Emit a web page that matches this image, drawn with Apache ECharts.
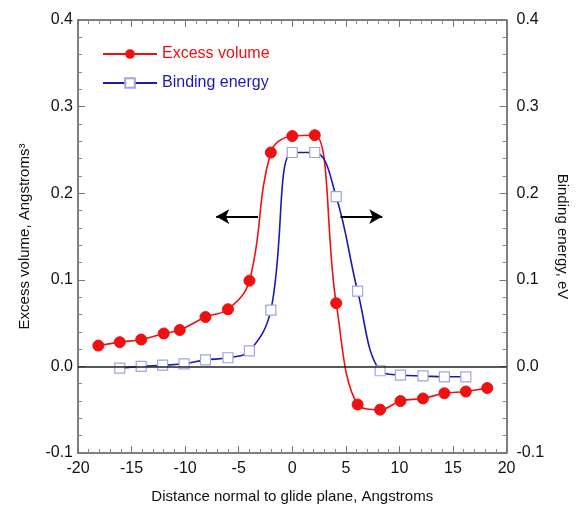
<!DOCTYPE html>
<html>
<head>
<meta charset="utf-8">
<script src="https://cdn.jsdelivr.net/npm/echarts@6/dist/echarts.min.js"></script>
<style>
html,body{margin:0;padding:0;background:#fff;}
#c{width:578px;height:509px;}
</style>
</head>
<body>
<div id="c"></div>
<script>
var xTicks = [-20, -15, -10, -5, 0, 5, 10, 15, 20];
var yTicks = [-0.1, 0.0, 0.1, 0.2, 0.3, 0.4];

var volX = [-18.1, -16.1, -14.1, -12.0, -10.5, -8.1, -6.0, -4.0, -2.0, 0.0, 2.1, 4.1, 6.1, 8.2, 10.1, 12.2, 14.2, 16.2, 18.2];
var volY = [0.024, 0.028, 0.031, 0.038, 0.042, 0.057, 0.066, 0.099, 0.247, 0.266, 0.267, 0.073, -0.044, -0.050, -0.040, -0.037, -0.031, -0.029, -0.025];

var bindX = [-16.1, -14.1, -12.1, -10.1, -8.1, -6.0, -4.0, -2.0, 0.0, 2.1, 4.1, 6.1, 8.2, 10.1, 12.2, 14.2, 16.2];
var bindY = [-0.002, 0.000, 0.0014, 0.003, 0.0075, 0.010, 0.018, 0.065, 0.247, 0.247, 0.196, 0.087, -0.005, -0.010, -0.011, -0.012, -0.012];

var leftArrow = [[-3.2, 0.173], [-7.1, 0.173]];
var rightArrow = [[4.5, 0.173], [8.4, 0.173]];

function zip(a, b) { return a.map(function (v, i) { return [v, b[i]]; }); }

var FONT = 'Liberation Sans';
var axisCommon = {
  axisLine: { show: true, onZero: false, lineStyle: { color: '#555', width: 1.5 } },
  axisTick: { show: true, inside: true, length: 7, lineStyle: { color: '#777', width: 1 } },
  minorTick: { show: true, splitNumber: 5, length: 4, lineStyle: { color: '#888', width: 1 } },
  splitLine: { show: false }
};

var chart = echarts.init(document.getElementById('c'));
chart.setOption({
  animation: false,
  backgroundColor: '#fff',
  textStyle: { fontFamily: FONT },
  grid: { left: 78, right: 67, top: 20, bottom: 55 },
  legend: {
    orient: 'vertical',
    left: 97,
    top: 41,
    itemWidth: 54,
    itemHeight: 12,
    itemGap: 13,
    textStyle: { fontFamily: FONT, fontSize: 16 },
    data: [
      { name: 'Excess volume', textStyle: { color: '#ee1111' } },
      { name: 'Binding energy', textStyle: { color: '#1a1ab8' } }
    ]
  },
  xAxis: [
    Object.assign({
      type: 'value', min: xTicks[0], max: xTicks[xTicks.length - 1], interval: 5, position: 'bottom',
      name: 'Distance normal to glide plane, Angstroms', nameLocation: 'middle', nameGap: 36,
      nameTextStyle: { fontFamily: FONT, fontSize: 15, color: '#111' },
      axisLabel: { fontFamily: FONT, fontSize: 16, color: '#111', margin: 8 }
    }, axisCommon),
    Object.assign({
      type: 'value', min: xTicks[0], max: xTicks[xTicks.length - 1], interval: 5, position: 'top',
      axisLabel: { show: false }
    }, axisCommon)
  ],
  yAxis: [
    Object.assign({
      type: 'value', min: yTicks[0], max: yTicks[yTicks.length - 1], interval: 0.1, position: 'left',
      name: 'Excess volume, Angstroms\u00B3', nameLocation: 'middle', nameGap: 46, nameRotate: 90,
      nameTextStyle: { fontFamily: FONT, fontSize: 15, color: '#111' },
      axisLabel: { fontFamily: FONT, fontSize: 16, color: '#111', margin: 5, formatter: function (v) { return v.toFixed(1); } }
    }, axisCommon),
    Object.assign({
      type: 'value', min: yTicks[0], max: yTicks[yTicks.length - 1], interval: 0.1, position: 'right',
      name: 'Binding energy, eV', nameLocation: 'middle', nameGap: 47, nameRotate: -90,
      nameTextStyle: { fontFamily: FONT, fontSize: 15, color: '#111' },
      axisLabel: { fontFamily: FONT, fontSize: 16, color: '#111', margin: 10, formatter: function (v) { return v.toFixed(1); } }
    }, axisCommon)
  ],
  series: [
    {
      name: 'Excess volume', type: 'line', xAxisIndex: 0, yAxisIndex: 0,
      data: zip(volX, volY), smooth: 0.4,
      symbol: 'circle', symbolSize: 11,
      lineStyle: { color: '#ee1111', width: 1.6 },
      itemStyle: { color: '#ee1111', borderColor: '#ee1111' },
      z: 3,
      markLine: {
        silent: true, symbol: 'none', label: { show: false },
        lineStyle: { color: '#222', width: 1.5, type: 'solid' },
        data: [{ yAxis: 0 }]
      }
    },
    {
      name: 'Binding energy', type: 'line', xAxisIndex: 0, yAxisIndex: 1,
      data: zip(bindX, bindY), smooth: 0.4,
      symbol: 'rect', symbolSize: 10,
      lineStyle: { color: '#1a1ab8', width: 1.6 },
      itemStyle: { color: '#ffffff', borderColor: '#a0a4e0', borderWidth: 1.2 },
      z: 4,
      markLine: {
        silent: true, symbol: ['none', 'arrow'], symbolSize: [11, 13], label: { show: false },
        lineStyle: { color: '#000', width: 2.2, type: 'solid' },
        data: [
          [{ coord: leftArrow[0] }, { coord: leftArrow[1] }],
          [{ coord: rightArrow[0] }, { coord: rightArrow[1] }]
        ]
      }
    }
  ]
});
</script>
</body>
</html>
